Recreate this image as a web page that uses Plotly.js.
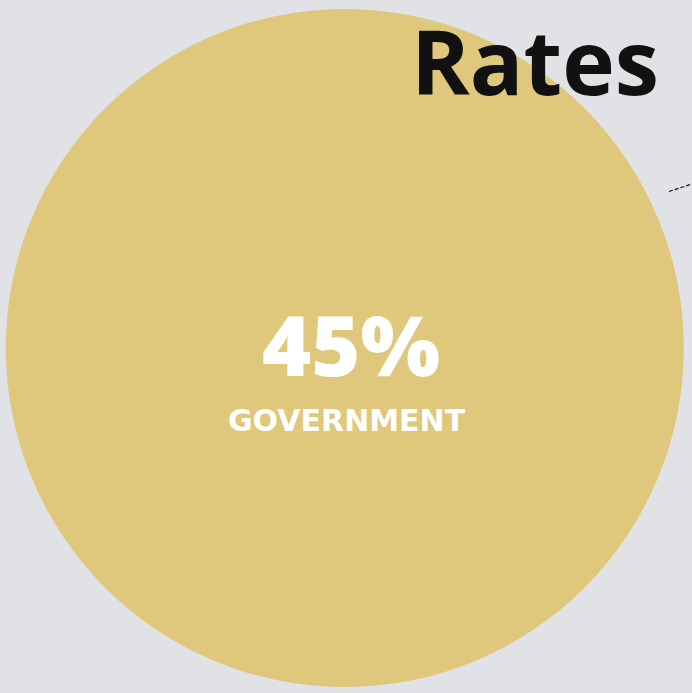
<!DOCTYPE html>
<html>
<head>
<meta charset="utf-8">
<script src="https://cdn.plot.ly/plotly-3.0.1.min.js"></script>
<style>html,body{margin:0;padding:0;background:#e1e2e6;}#chart{width:692px;height:693px;}</style>
</head>
<body>
<div id="chart"></div>
<script>
const categories = ['Government'];
const shares = [45];
const colors = ['#dfc77c'];
const chartTitle = 'Rates';

const W = 692, H = 693;
const cx = 344.8, cy = 348, r = 339;

const trace = {
  type: 'pie',
  labels: categories,
  values: shares,
  marker: {colors: colors, line: {width: 0}},
  textinfo: 'none',
  hoverinfo: 'label+percent',
  sort: false,
  showlegend: false,
  domain: {x: [(cx - r) / W, (cx + r) / W], y: [(H - cy - r) / H, (H - cy + r) / H]}
};

const layout = {
  width: W, height: H,
  margin: {l: 0, r: 0, t: 0, b: 0},
  paper_bgcolor: '#e1e2e6',
  plot_bgcolor: '#e1e2e6',
  title: {
    text: chartTitle,
    font: {family: 'Open Sans, sans-serif', size: 89, color: '#111111', weight: 700},
    x: 535 / W, xanchor: 'center',
    y: 1 - 64 / H, yanchor: 'middle', yref: 'container', xref: 'container'
  },
  annotations: [
    {text: shares[0] + '%', x: 351 / W, y: 1 - 343 / H, xref: 'paper', yref: 'paper',
     xanchor: 'center', yanchor: 'middle', showarrow: false,
     font: {family: 'Open Sans, sans-serif', size: 84, color: '#ffffff', weight: 800}},
    {text: categories[0].toUpperCase(), x: 347 / W, y: 1 - 420 / H, xref: 'paper', yref: 'paper',
     xanchor: 'center', yanchor: 'middle', showarrow: false,
     font: {family: 'DejaVu Sans, sans-serif', size: 30, color: '#ffffff', weight: 700}}
  ],
  shapes: [
    {type: 'line', xref: 'paper', yref: 'paper', x0: 669 / W, y0: 1 - 191.5 / H, x1: 1, y1: 1 - 184 / H,
     line: {color: '#111111', width: 1.2, dash: '4px,2px'}}
  ]
};

Plotly.newPlot('chart', [trace], layout, {displayModeBar: false, staticPlot: true});
</script>
</body>
</html>
